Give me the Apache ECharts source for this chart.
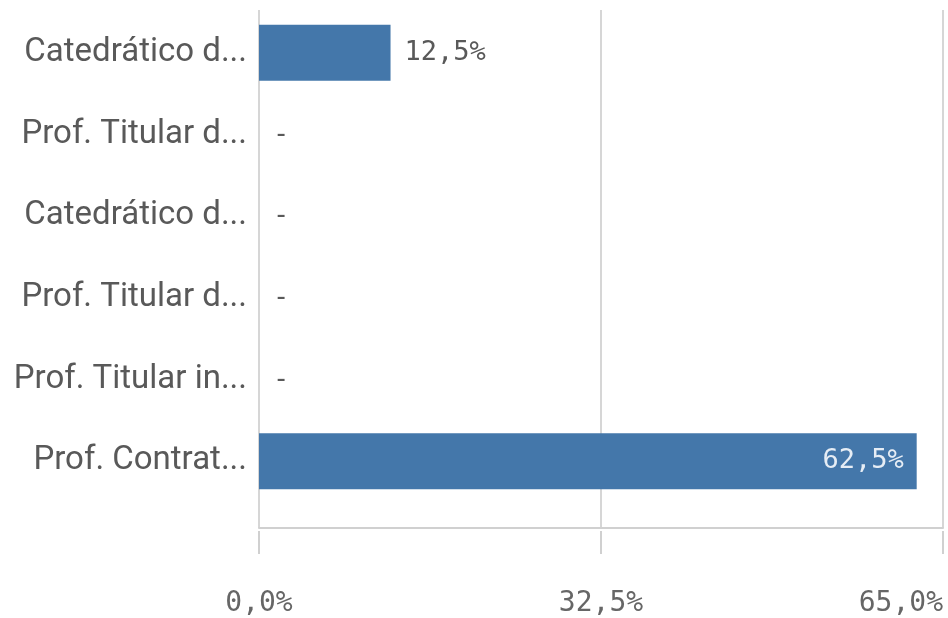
<!DOCTYPE html>
<html>
<head>
<meta charset="utf-8">
<script src="https://cdn.jsdelivr.net/npm/echarts@6/dist/echarts.min.js"></script>
<style>
    html, body { margin: 0; padding: 0; background: #fff; }
    #chart { width: 948px; height: 618px; }
</style>
</head>
<body>
<div id="chart"></div>
<script>
// 数据
var categories = ['Catedrático d...', 'Prof. Titular d...', 'Catedrático d...', 'Prof. Titular d...', 'Prof. Titular in...', 'Prof. Contrat...'];
var values = [12.5, 0, 0, 0, 0, 62.5];
var axisMin = 0;
var axisMax = 65;
var axisStep = 32.5;

var textFont = 'Roboto, sans-serif';
var numFont = '"DejaVu Sans Mono", monospace';

function pct(v) {
    return v.toFixed(1).replace('.', ',') + '%';
}

// 长条放内部标签，短条放外部
var barData = values.map(function(v) {
    var item = { value: v };
    if (v >= axisMax / 2) {
        item.label = { position: 'insideRight', distance: 13, color: '#e6edf5' };
    }
    return item;
});

var chart = echarts.init(document.getElementById('chart'));
var option = {
    animation: false,
    grid: [
        { left: 259, right: 5, top: 12, height: 490 },
        { left: 259, right: 5, top: 10, height: 520 }
    ],
    xAxis: [{
        gridIndex: 0,
        type: 'value',
        min: axisMin,
        max: axisMax,
        show: false
    }, {
        gridIndex: 1,
        type: 'value',
        min: axisMin,
        max: axisMax,
        interval: axisStep,
        axisLine: { show: true, lineStyle: { color: '#d0d0d0', width: 2 } },
        axisTick: { show: false },
        axisLabel: { show: false },
        splitLine: { show: true, lineStyle: { color: '#d6d6d6', width: 2 } }
    }, {
        gridIndex: 1,
        type: 'value',
        position: 'bottom',
        offset: 3,
        min: axisMin,
        max: axisMax,
        interval: axisStep,
        axisLine: { show: false },
        axisTick: { show: true, length: 23, lineStyle: { color: '#d0d0d0', width: 2 } },
        splitLine: { show: false },
        axisLabel: {
            margin: 59,
            color: '#666',
            fontSize: 28,
            fontFamily: numFont,
            alignMaxLabel: 'right',
            formatter: pct
        }
    }],
    yAxis: [{
        gridIndex: 0,
        type: 'category',
        inverse: true,
        data: categories,
        axisLine: { show: false },
        axisTick: { show: false },
        axisLabel: { color: '#595959', fontSize: 33, margin: 12, fontFamily: textFont }
    }, {
        gridIndex: 1,
        type: 'value',
        show: false
    }],
    series: [{
        type: 'bar',
        xAxisIndex: 0,
        yAxisIndex: 0,
        barWidth: 56,
        itemStyle: { color: '#4477aa' },
        label: {
            show: true,
            position: 'right',
            distance: 14,
            color: '#595959',
            fontSize: 27,
            fontFamily: numFont,
            formatter: function(p) {
                return p.value === 0 ? '-' : pct(p.value);
            }
        },
        data: barData
    }]
};
chart.setOption(option);
</script>
</body>
</html>
